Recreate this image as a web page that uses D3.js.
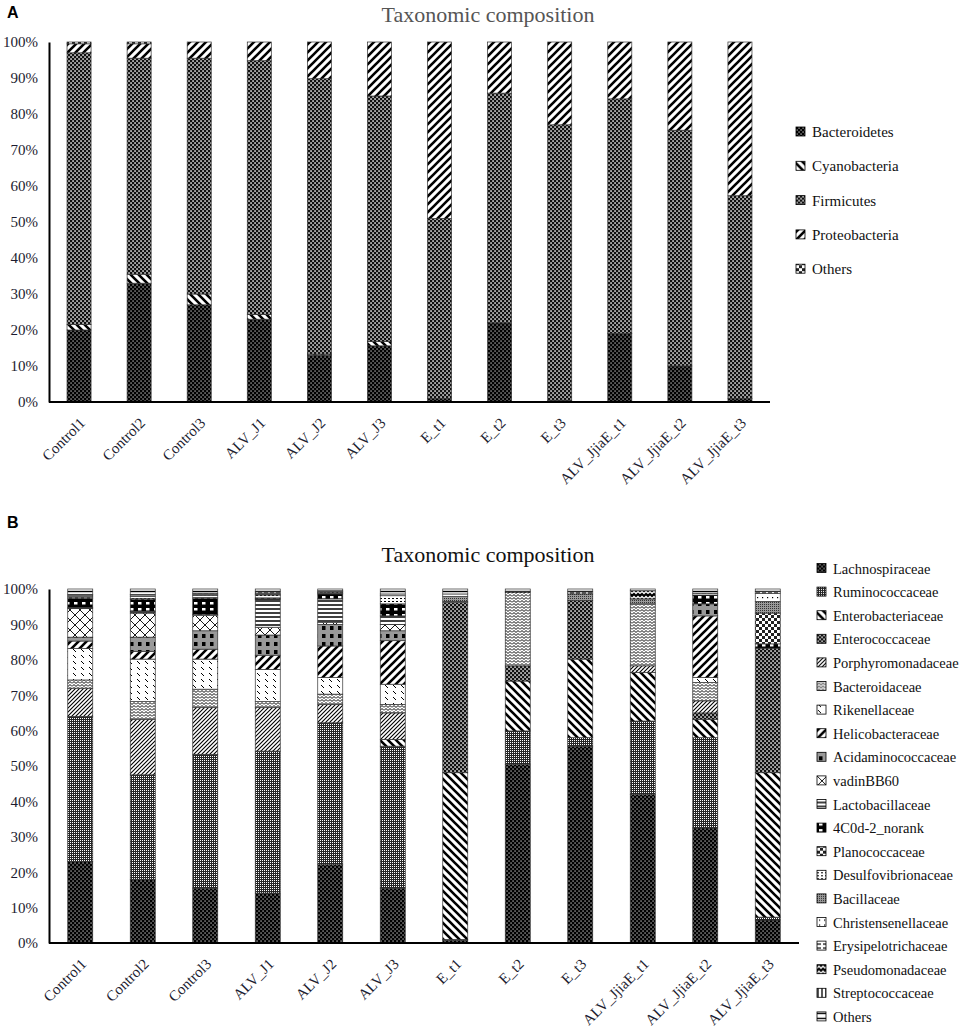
<html> <head>
<script src="https://d3js.org/d3.v7.min.js"></script>
<style>
  body { margin: 0; background: #fff; }
  text { font-family: "Liberation Serif", "Times New Roman", serif; }
</style>
</head>
<body>
<div id="fig"></div>
<script>

// samples (same in both panels)
const samples = ['Control1', 'Control2', 'Control3', 'ALV_J1', 'ALV_J2', 'ALV_J3',
  'E_t1', 'E_t2', 'E_t3', 'ALV_JjiaE_t1', 'ALV_JjiaE_t2', 'ALV_JjiaE_t3'];
const tickValues = [0, 10, 20, 30, 40, 50, 60, 70, 80, 90, 100];

// panel A, phylum level (%)
const phylumNames = ['Bacteroidetes', 'Cyanobacteria', 'Firmicutes', 'Proteobacteria', 'Others'];
const bacteroidetes  = [20, 33, 27, 23, 13, 15.6, 1, 22, 0.5, 19, 10, 1];
const cyanobacteria  = [1.5, 2.5, 3, 1.3, 0.3, 1.2, 0, 0, 0, 0, 0, 0];
const firmicutes     = [75.5, 60, 65.5, 70.5, 76.5, 68.2, 50, 63.8, 76.5, 65.2, 65.5, 56.3];
const proteobacteria = [2.5, 4, 4.5, 5.2, 10.2, 15, 49, 14.2, 23, 15.8, 24.5, 42.7];
const othersA        = [0.5, 0.5, 0, 0, 0, 0, 0, 0, 0, 0, 0, 0];

// panel B, family level (%)
const familyNames = ['Lachnospiraceae', 'Ruminococcaceae', 'Enterobacteriaceae', 'Enterococcaceae',
  'Porphyromonadaceae', 'Bacteroidaceae', 'Rikenellaceae', 'Helicobacteraceae', 'Acidaminococcaceae',
  'vadinBB60', 'Lactobacillaceae', '4C0d-2_norank', 'Planococcaceae', 'Desulfovibrionaceae',
  'Bacillaceae', 'Christensenellaceae', 'Erysipelotrichaceae', 'Pseudomonadaceae',
  'Streptococcaceae', 'Others'];
const lachnospiraceae     = [23, 18, 15.5, 14.1, 22.1, 15.5, 0.8, 50.4, 55.6, 41.9, 32.5, 6.5];
const ruminococcaceae     = [41, 29.5, 37.8, 40.1, 40.1, 40.1, 0.2, 9.5, 2.4, 20.8, 25.5, 0.8];
const enterobacteriaceae  = [0, 0, 0, 0, 0, 1.9, 47.1, 14.1, 22.2, 13.7, 5.2, 40.8];
const enterococcaceae     = [0, 0, 0, 0, 0, 0, 48.1, 4.3, 16.5, 0, 1.8, 35.2];
const porphyromonadaceae  = [8, 15.7, 13.2, 12.3, 5.2, 7.5, 0, 0, 0, 1.9, 3.4, 0];
const bacteroidaceae      = [2.3, 5, 5.2, 1.7, 2.9, 2.4, 0, 20.7, 0, 17.5, 5.2, 0];
const rikenellaceae       = [8.9, 12, 8.5, 9.1, 4.7, 5.7, 0, 0, 0, 0, 1.4, 0];
const helicobacteraceae   = [2.1, 2.2, 2.8, 4, 8.9, 12.3, 0, 0, 0, 0, 17.4, 0];
const acidaminococcaceae  = [1.1, 4, 5.2, 5.7, 6.1, 2.8, 0, 0, 0, 0, 3.4, 0];
const vadinBB60           = [8.1, 6.8, 4.3, 2.2, 0.6, 1.8, 0, 0, 0, 0, 0, 0];
const lactobacillaceae    = [0.3, 0.5, 0.3, 7.8, 6.6, 2.4, 0, 0, 0, 0, 0, 0];
const norank4C0d2         = [2.5, 3.3, 4.5, 0.3, 1.4, 3.4, 0, 0, 0, 0, 2.5, 1.2];
const planococcaceae      = [0.4, 0.3, 0.3, 0.2, 0.2, 0, 0, 0, 0, 0, 0, 8.7];
const desulfovibrionaceae = [0.3, 0.6, 0.6, 0.8, 0.3, 2.3, 0.3, 0.3, 0, 0, 0, 0];
const bacillaceae         = [0, 0, 0, 0.2, 0, 0, 1.4, 0, 1.9, 1.4, 0, 3.3];
const christensenellaceae = [0.3, 0.4, 0.3, 0.3, 0.2, 0, 0.7, 0, 0, 0, 0, 2.3];
const erysipelotrichaceae = [0.2, 0.2, 0.3, 0.4, 0.2, 0.5, 0, 0, 0.6, 0, 0.5, 0.5];
const pseudomonadaceae    = [0, 0, 0, 0, 0, 0, 0, 0, 0, 2.3, 0, 0];
const streptococcaceae    = [0, 0, 0, 0, 0, 0, 0, 0, 0, 0, 0, 0];
const othersB             = [1.5, 1.5, 1.2, 0.8, 0.5, 1.4, 1.4, 0.7, 0.8, 0.5, 1.2, 0.7];

const phylumSeries = [bacteroidetes, cyanobacteria, firmicutes, proteobacteria, othersA];
const familySeries = [lachnospiraceae, ruminococcaceae, enterobacteriaceae, enterococcaceae,
  porphyromonadaceae, bacteroidaceae, rikenellaceae, helicobacteraceae, acidaminococcaceae,
  vadinBB60, lactobacillaceae, norank4C0d2, planococcaceae, desulfovibrionaceae, bacillaceae,
  christensenellaceae, erysipelotrichaceae, pseudomonadaceae, streptococcaceae, othersB];

const phylumFills = ['dkdots', 'bdiag', 'checker', 'fdiag', 'coarse'];
const familyFills = ['dkdots', 'gray', 'bdiag', 'checker', 'fine', 'zigzag', 'riken', 'fdiag',
  'acid', 'vadin', 'hlines', 'blk', 'coarse', 'dashes', 'bacill', 'sparse', 'hdash', 'pseudo',
  'vlines', 'others'];

const svg = d3.select('#fig').append('svg').attr('width', 973).attr('height', 1034);

// pattern helpers
const defs = svg.append('defs');
const pat = (id, w, h, bg, draw) => {
  const p = defs.append('pattern').attr('id', id)
    .attr('patternUnits', 'userSpaceOnUse').attr('width', w).attr('height', h);
  p.append('rect').attr('width', w).attr('height', h).attr('fill', bg);
  draw(p);
};
const sq = (p, x, y, s, c, s2) => p.append('rect').attr('x', x).attr('y', y)
  .attr('width', s).attr('height', s2 || s).attr('fill', c);
const ln = (p, d, w, c) => p.append('path').attr('d', d).attr('stroke', c || '#000')
  .attr('stroke-width', w).attr('fill', 'none');

pat('dkdots', 4, 4, '#000', p => { sq(p, 0.5, 0.5, 1.1, '#fff'); sq(p, 2.5, 2.5, 1.1, '#fff'); });
pat('gray', 2, 2, '#262626', p => sq(p, 0, 0, 1, '#fff'));
pat('checker', 4, 4, '#111', p => { sq(p, 0.3, 0.3, 1.5, '#fff'); sq(p, 2.3, 2.3, 1.5, '#fff'); });
pat('bdiag', 8, 8, '#fff', p => ln(p, 'M-2,-2L10,10M-2,6L2,10M6,-2L10,2', 2.6));
pat('fdiag', 8, 8, '#fff', p => ln(p, 'M-2,10L10,-2M-2,2L2,-2M6,10L10,6', 2.6));
pat('fine', 4, 4, '#fff', p => ln(p, 'M-1,5L5,-1M-1,1L1,-1M3,5L5,3', 1.1));
pat('zigzag', 8, 6, '#fff', p => { ln(p, 'M0,2.5L2,0.5L4,2.5L6,0.5L8,2.5', 1); ln(p, 'M0,5.5L2,3.5L4,5.5L6,3.5L8,5.5', 1); });
pat('riken', 8, 6, '#fff', p => ln(p, 'M1,1L4,4', 1));
pat('acid', 8, 8, '#999', p => { sq(p, 2, 2, 3.5, '#000', 4); });
pat('vadin', 10, 10, '#fff', p => ln(p, 'M0,0L10,10M10,0L0,10', 0.9));
pat('hlines', 4, 4, '#fff', p => ln(p, 'M0,1L4,1', 1.5));
pat('blk', 8, 6, '#000', p => sq(p, 2, 2, 3.5, '#fff', 2.5));
pat('coarse', 6, 6, '#fff', p => { sq(p, 0, 0, 3, '#222'); sq(p, 3, 3, 3, '#222'); });
pat('dashes', 4, 3, '#fff', p => sq(p, 0, 1, 2, '#000', 1));
pat('bacill', 2, 2, '#999', p => sq(p, 0, 0, 1, '#333'));
pat('sparse', 5, 5, '#fff', p => sq(p, 2, 2, 1.2, '#000'));
pat('hdash', 6, 4, '#fff', p => ln(p, 'M0,1L4,1', 1.2));
pat('pseudo', 8, 5, '#000', p => ln(p, 'M0,3.5L2,1.5L4,3.5L6,1.5L8,3.5', 1.3, '#fff'));
pat('vlines', 4, 4, '#fff', p => ln(p, 'M1,0L1,4', 1.3));
pat('others', 6, 5, '#fff', p => ln(p, 'M0,1.5L6,1.5', 1.4));

// one stacked bar panel
const drawPanel = (cfg) => {
  const g = svg.append('g');
  const x = d3.scaleBand().domain(samples).range([49, cfg.xEnd]).paddingInner(0.6).paddingOuter(0.3);
  const y = d3.scaleLinear().domain([0, 100]).range([cfg.y0, cfg.y1]);

  const rows = samples.map((s, i) => {
    const r = { sample: s };
    cfg.names.forEach((n, k) => { r[n] = cfg.series[k][i]; });
    return r;
  });
  const stacked = d3.stack().keys(cfg.names)(rows);

  g.selectAll('g.layer').data(stacked).join('g')
    .attr('fill', (d, k) => `url(#${cfg.fills[k]})`)
    .selectAll('rect').data(d => d.filter(v => v[1] - v[0] > 0)).join('rect')
    .attr('x', d => x(d.data.sample))
    .attr('width', x.bandwidth())
    .attr('y', d => y(d[1]))
    .attr('height', d => y(d[0]) - y(d[1]))
    .attr('stroke', '#333').attr('stroke-width', 0.7);

  // axes
  const ya = g.append('g').attr('transform', 'translate(49,0)')
    .call(d3.axisLeft(y).tickValues(tickValues).tickSize(0).tickPadding(11).tickFormat(d => d + '%'));
  ya.select('.domain').attr('stroke', '#000').attr('stroke-width', 2);
  ya.selectAll('text').style('font-size', '15px').attr('fill', '#1c1c30')
    .style('font-family', '"Liberation Serif", serif');

  const xa = g.append('g').attr('transform', `translate(0,${cfg.y0})`)
    .call(d3.axisBottom(x).tickSize(0).tickSizeOuter(0));
  xa.select('.domain').attr('stroke', '#000').attr('stroke-width', 2).attr('d', `M49,0H${cfg.xEnd}`);
  xa.selectAll('text').attr('text-anchor', 'end').attr('y', 0).attr('dy', 0)
    .attr('transform', 'translate(7,22) rotate(-45)')
    .style('font-size', '15px').attr('fill', '#1c1c30')
    .style('font-family', '"Liberation Serif", serif');

  // title
  g.append('text').attr('x', 488).attr('y', cfg.titleY).attr('text-anchor', 'middle')
    .style('font-size', '22px').attr('fill', cfg.titleColor).text('Taxonomic composition');
  // panel letter
  g.append('text').attr('x', 7).attr('y', cfg.letterY).text(cfg.letter)
    .style('font-family', '"Liberation Sans", Arial, sans-serif').style('font-weight', 'bold')
    .style('font-size', '16px');

  // legend
  const lg = g.selectAll('g.leg').data(cfg.names).join('g')
    .attr('transform', (d, k) => `translate(${cfg.legX},${cfg.legY + k * cfg.legStep})`);
  lg.append('rect').attr('x', 0).attr('y', -10).attr('width', 9).attr('height', 9)
    .attr('fill', (d, k) => `url(#${cfg.fills[k]})`).attr('stroke', '#000').attr('stroke-width', 0.8);
  lg.append('text').attr('x', 16).attr('y', 0).text(d => d)
    .style('font-size', cfg.legFont).attr('fill', '#111');
};

drawPanel({
  names: phylumNames, series: phylumSeries, fills: phylumFills,
  xEnd: 770, y0: 402, y1: 42, titleY: 22, titleColor: '#555', letter: 'A', letterY: 18,
  legX: 796, legY: 137, legStep: 34.3, legFont: '15px'
});
drawPanel({
  names: familyNames, series: familySeries, fills: familyFills,
  xEnd: 799, y0: 943, y1: 589, titleY: 562, titleColor: '#111', letter: 'B', letterY: 528,
  legX: 817, legY: 573.5, legStep: 23.6, legFont: '14.5px'
});

</script> </body></html>
